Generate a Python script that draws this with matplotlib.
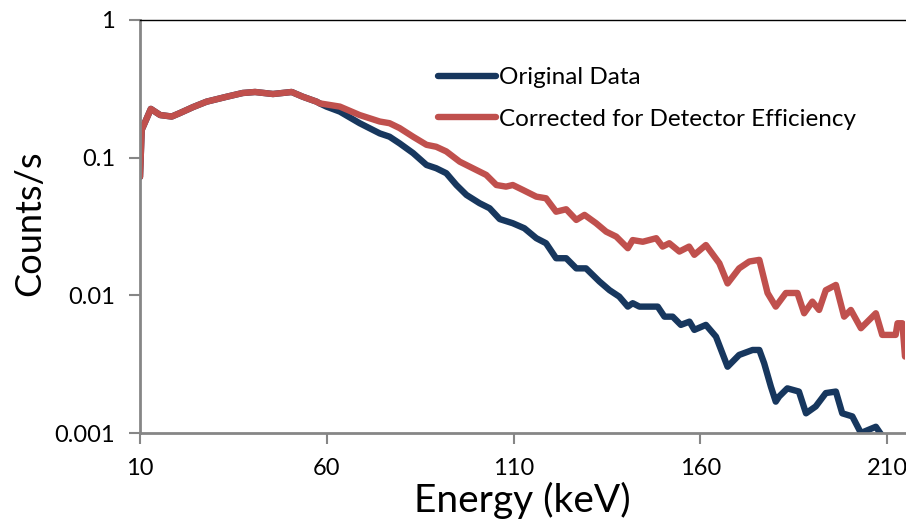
import matplotlib
matplotlib.use("Agg")
import matplotlib.pyplot as plt
from matplotlib.ticker import FixedLocator, FixedFormatter, NullLocator

plt.rcParams['font.family'] = ['Lato', 'DejaVu Sans']

# ---- data ----
low_energy = [10.0, 10.45, 12.9, 15.4, 18.5, 20.7, 24.2, 27.8, 33.2, 37.5, 40.8,
              45.6, 50.6, 53.6, 57.3, 58.1]
low_counts = [0.0724, 0.159, 0.226, 0.204, 0.199, 0.211, 0.233, 0.255, 0.277, 0.295,
              0.300, 0.290, 0.300, 0.277, 0.255, 0.248]

orig_energy = [59.9, 63.5, 68.8, 74.2, 76.8, 79.5, 83.1, 86.7, 89.3, 92.0, 94.7,
               97.4, 100.9, 103.6, 106.3, 109.8, 112.9, 116.1, 118.7, 121.4, 124.1,
               126.8, 129.4, 133.0, 135.7, 138.3, 140.6, 141.9, 143.7, 148.6, 150.4,
               152.6, 154.8, 157.1, 158.4, 161.5, 164.2, 167.3, 170.4, 174.0, 175.8,
               177.1, 178.9, 180.2, 181.1, 183.3, 186.4, 188.3, 190.9, 193.6, 196.3,
               198.0, 200.7, 203.0, 207.0, 208.7, 211.0, 214.8]
orig_counts = [0.235, 0.216, 0.178, 0.150, 0.142, 0.127, 0.108, 0.0885, 0.0838, 0.0771,
               0.0633, 0.0536, 0.0467, 0.0429, 0.0358, 0.0334, 0.0307, 0.0260, 0.0239,
               0.0186, 0.0186, 0.0157, 0.0157, 0.0126, 0.0109, 0.00979, 0.00828,
               0.00877, 0.00828, 0.00828, 0.00700, 0.00700, 0.00610, 0.00644, 0.00561,
               0.00610, 0.00501, 0.00303, 0.00369, 0.00401, 0.00401, 0.00321, 0.00217,
               0.00169, 0.00184, 0.00211, 0.00200, 0.00139, 0.00156, 0.00195, 0.00200,
               0.00139, 0.00132, 0.00100, 0.00111, 0.00095, 0.0007, 0.0007]

corr_energy = [63.5, 68.8, 74.2, 76.8, 79.5, 83.1, 86.7, 89.3, 92.0, 95.6, 99.1,
               102.7, 105.4, 108.0, 109.8, 112.5, 116.1, 118.7, 121.4, 124.1, 126.8,
               129.0, 132.1, 134.8, 137.5, 140.6, 141.9, 144.6, 148.2, 149.9, 151.7,
               154.4, 157.0, 158.4, 161.5, 165.1, 167.3, 170.4, 173.1, 175.8, 178.0,
               180.2, 182.9, 186.0, 187.8, 190.0, 191.8, 193.6, 196.3, 198.5, 200.3,
               203.0, 207.0, 208.7, 212.3, 212.8, 214.1, 214.8]
corr_counts = [0.235, 0.204, 0.183, 0.178, 0.164, 0.142, 0.124, 0.120, 0.111, 0.0935,
               0.0838, 0.0749, 0.0633, 0.0616, 0.0633, 0.0583, 0.0521, 0.0507, 0.0405,
               0.0422, 0.0353, 0.0384, 0.0334, 0.0290, 0.0267, 0.0220, 0.0252, 0.0245,
               0.0260, 0.0226, 0.0239, 0.0208, 0.0226, 0.0197, 0.0232, 0.0171, 0.0122,
               0.0157, 0.0176, 0.0181, 0.0104, 0.00828, 0.0104, 0.0104, 0.00741,
               0.00900, 0.00783, 0.0109, 0.0119, 0.00700, 0.00783, 0.00577, 0.00741,
               0.00516, 0.00516, 0.00627, 0.00627, 0.00359]

series_names = ["Original Data", "Corrected for Detector Efficiency"]
x_ticks = [10, 60, 110, 160, 210]
y_ticks = [0.001, 0.01, 0.1, 1]
y_tick_labels = ["0.001", "0.01", "0.1", "1"]

blue = "#17375E"
red = "#C0504D"
axis_grey = "#868686"

fig = plt.figure(figsize=(9.06, 5.26), dpi=100)
ax = fig.add_axes([140/906, 1 - 433/526, (905 - 140)/906, (433 - 20)/526])

ax.plot(low_energy + orig_energy, low_counts + orig_counts, color=blue, lw=4.6,
        solid_joinstyle='round', solid_capstyle='round', label=series_names[0])
ax.plot(low_energy + corr_energy, low_counts + corr_counts, color=red, lw=4.6,
        solid_joinstyle='round', solid_capstyle='round', label=series_names[1])

ax.set_yscale('log')
ax.set_xlim(10, 214.8)
ax.set_ylim(0.001, 1)

ax.xaxis.set_major_locator(FixedLocator(x_ticks))
ax.set_xticklabels([str(t) for t in x_ticks])
ax.yaxis.set_major_locator(FixedLocator(y_ticks))
ax.yaxis.set_major_formatter(FixedFormatter(y_tick_labels))
ax.yaxis.set_minor_locator(NullLocator())

for side in ['left', 'bottom']:
    ax.spines[side].set_color(axis_grey)
    ax.spines[side].set_linewidth(2)
ax.spines['top'].set_color('black')
ax.spines['top'].set_linewidth(1)
ax.spines['right'].set_visible(False)

ax.tick_params(axis='y', which='major', direction='out', length=8, width=1.5,
               color=axis_grey, labelsize=17, pad=10, labelcolor='black')
ax.tick_params(axis='x', which='major', direction='out', length=8, width=1.5,
               color=axis_grey, labelsize=17, pad=10, labelcolor='black')

ax.set_xlabel("Energy (keV)", fontsize=28, labelpad=2)
ax.set_ylabel("Counts/s", fontsize=26)
ax.yaxis.set_label_coords(-0.123, 0.508)

leg = ax.legend(loc='upper left', bbox_to_anchor=(438/906, 1 - 67/526),
                bbox_transform=fig.transFigure, frameon=False, fontsize=17.5,
                handlelength=2.4, handletextpad=0.12, labelspacing=0.85,
                borderpad=0, borderaxespad=0)

fig.savefig("out.png", dpi=100)
